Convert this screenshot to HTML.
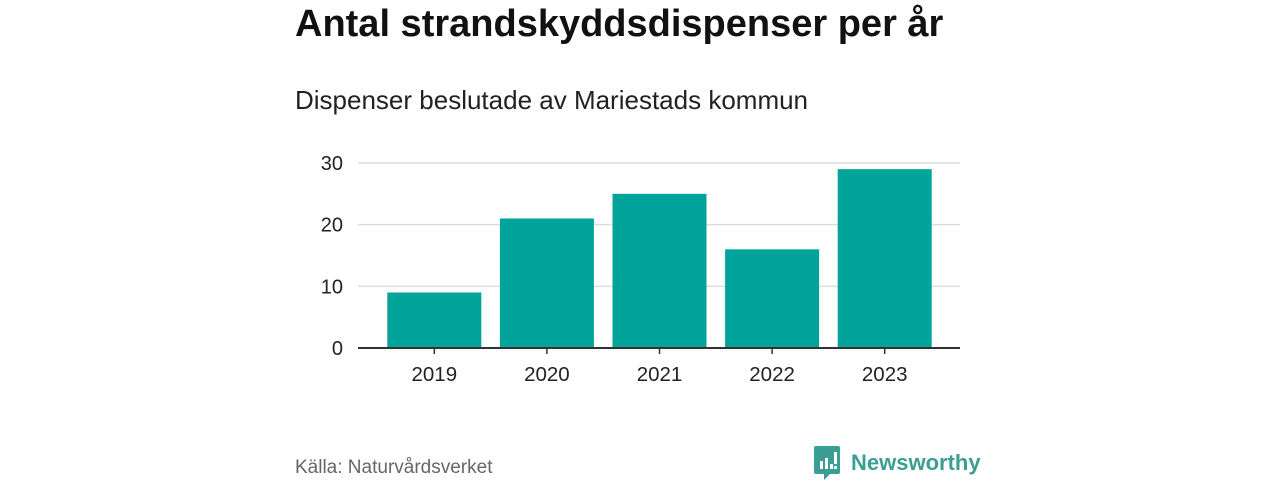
<!DOCTYPE html>
<html><head><meta charset="utf-8"><style>
body{margin:0;width:1280px;height:480px;background:#fff;font-family:"Liberation Sans",sans-serif;overflow:hidden;position:relative}
.t{position:absolute;left:295px;top:3px;font-size:38px;font-weight:bold;color:#111}
.s{position:absolute;left:295px;top:85px;font-size:26px;color:#222}
.src{position:absolute;left:295px;top:457px;font-size:19px;color:#666}
.logo{position:absolute;left:814px;top:446px;display:flex;align-items:center}
.logo span{font-size:22px;font-weight:bold;color:#3a9e94;margin-left:11px}
</style></head><body>
<div class="t">Antal strandskyddsdispenser per år</div>
<div class="s">Dispenser beslutade av Mariestads kommun</div>
<svg id="c" width="1280" height="480" style="position:absolute;left:0;top:0"></svg>
<div class="src">Källa: Naturvårdsverket</div>
<div class="logo">
<svg width="26" height="34" viewBox="0 0 26 34"><path d="M2 0H24A2 2 0 0 1 26 2V26A2 2 0 0 1 24 28H16L10 34V28H2A2 2 0 0 1 0 26V2A2 2 0 0 1 2 0Z" fill="#3a9e94"/><rect x="6" y="15" width="3" height="8" fill="#fff"/><rect x="11" y="12" width="3" height="11" fill="#fff"/><rect x="16" y="18" width="3" height="5" fill="#fff"/><rect x="20" y="6" width="3" height="12" fill="#fff"/><rect x="20" y="20" width="3" height="3" fill="#fff"/></svg>
<span>Newsworthy</span></div>
<script>
const categories=["2019","2020","2021","2022","2023"];
const values=[9,21,25,16,29];
const yTicks=[0,10,20,30];
const NS="http://www.w3.org/2000/svg";
const svg=document.getElementById('c');
const x0=358,x1=960,y0=348,yTop=163,yMax=30;
const bStart=378,bEnd=941;
const y=v=>y0-(y0-yTop)*v/yMax;
const band=(bEnd-bStart)/categories.length,barW=94;
function el(t,a){const e=document.createElementNS(NS,t);for(const k in a)e.setAttribute(k,a[k]);svg.appendChild(e);return e;}
yTicks.forEach(v=>{
 if(v>0){const g=el('line',{x1:x0,x2:x1,y1:y(v),y2:y(v),stroke:'#ddd','stroke-width':1.5});
 
 }
 const t=el('text',{x:343,y:y(v)+7,'text-anchor':'end','font-size':20,fill:'#222','font-family':'Liberation Sans, sans-serif'});
 t.textContent=v;
 
 
});
categories.forEach((c,i)=>{
 const cx=bStart+i*band+band/2;
 const r=el('rect',{x:cx-barW/2,y:y(values[i]),width:barW,height:y0-y(values[i]),fill:'#00a49a'});
 
 
 el('line',{x1:cx,x2:cx,y1:y0,y2:y0+6,stroke:'#333','stroke-width':1.5});
 const t=el('text',{x:cx,y:y0+33,'text-anchor':'middle','font-size':20.5,fill:'#222','font-family':'Liberation Sans, sans-serif'});
 t.textContent=c;
 
 
});
const ax=el('line',{x1:x0,x2:x1,y1:y0,y2:y0,stroke:'#333','stroke-width':2});


</script>
</body></html>
